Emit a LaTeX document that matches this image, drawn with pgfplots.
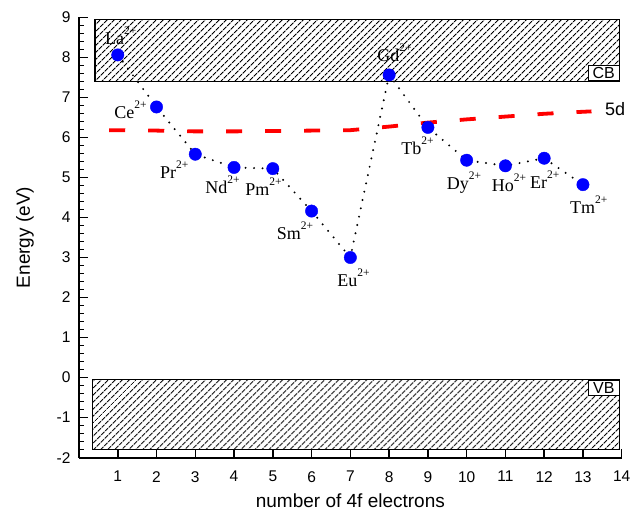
\documentclass[border=0pt]{standalone}
\usepackage{pgfplots}
\pgfplotsset{compat=1.18}
\usepackage{fontspec}
\setmainfont{Liberation Sans}
\newfontfamily\timesfont{Liberation Serif}
\usetikzlibrary{patterns.meta}
\newcommand{\ion}[1]{{\timesfont\fontsize{18bp}{20bp}\selectfont #1\raisebox{10bp}{\fontsize{11.5bp}{12bp}\selectfont 2+}}}
\begin{document}
\begin{tikzpicture}
\useasboundingbox (-79bp,-58.3bp) rectangle (553bp,457.7bp);
\begin{axis}[
 at={(0,0)}, anchor=south west,
 scale only axis, width=542.7bp, height=440.4bp,
 xmin=0, xmax=14, ymin=-2, ymax=9,
 axis x line*=bottom, axis y line*=left,
 axis line style={line width=1.8bp},
 xtick={1,...,14}, ytick={-2,...,9},
 minor y tick num=4,
 tick align=inside,
 major tick length=8.5bp, minor tick length=5bp,
 every tick/.style={line width=1.5bp, black},
 ticklabel style={font=\fontsize{15.5bp}{17bp}\selectfont},
 /pgf/number format/assume math mode=true,
 xticklabel style={yshift=-10bp},
 yticklabel style={xshift=-5bp},
 xlabel={number of 4f electrons},
 ylabel={Energy (eV)},
 label style={font=\fontsize{19bp}{21bp}\selectfont},
 xlabel style={at={(axis description cs:0.5,-0.0977)}, anchor=center},
 ylabel style={at={(axis description cs:-0.0995,0.5)}, anchor=center},
 clip=false,
]
\draw[line width=1.3bp, pattern={Lines[angle=45,distance=5.2bp,line width=1.1bp]}] (axis cs:0.41,7.4) rectangle (axis cs:13.95,8.95);
\draw[line width=1.3bp, pattern={Lines[angle=45,distance=5.2bp,line width=1.1bp]}] (axis cs:0.35,-1.8) rectangle (axis cs:13.95,-0.05);
\node[draw, fill=white, line width=1bp, inner sep=0pt, minimum width=31bp, minimum height=15.5bp, anchor=south east, font=\fontsize{16bp}{17bp}\selectfont] at (axis cs:13.95,7.4) {CB};
\node[draw, fill=white, line width=1bp, inner sep=0pt, minimum width=31bp, minimum height=15.5bp, anchor=north east, font=\fontsize{16bp}{17bp}\selectfont] at (axis cs:13.95,-0.05) {VB};

\addplot[red, line width=3.8bp, dash pattern=on 16bp off 23bp] coordinates {
(0.78,6.18)(1,6.18)(2,6.17)(3,6.15)(4,6.15)(5,6.16)(6,6.17)(7,6.18)(8,6.27)(9,6.37)(10,6.45)(11,6.52)(12,6.59)(13,6.64)(13.22,6.65)};

\addplot[black, line width=2.2bp, dash pattern=on 0bp off 8.5bp, line cap=round] coordinates {
(1,8.06)(2,6.76)(3,5.58)(4,5.25)(5,5.22)(6,4.16)(7,3.00)(8,7.56)(9,6.25)(10,5.43)(11,5.29)(12,5.48)(13,4.82)};

\addplot[only marks, mark=*, mark size=6.2bp, mark options={draw=blue, fill=blue}] coordinates {
(1,8.06)(2,6.76)(3,5.58)(4,5.25)(5,5.22)(6,4.16)(7,3.00)(8,7.56)(9,6.25)(10,5.43)(11,5.29)(12,5.48)(13,4.82)};

\node[anchor=base west, inner sep=0pt] at (axis cs:0.671,8.33) {\ion{La}};
\node[anchor=base west, inner sep=0pt] at (axis cs:0.910,6.476) {\ion{Ce}};
\node[anchor=base west, inner sep=0pt] at (axis cs:2.090,4.98) {\ion{Pr}};
\node[anchor=base west, inner sep=0pt] at (axis cs:3.255,4.59) {\ion{Nd}};
\node[anchor=base west, inner sep=0pt] at (axis cs:4.287,4.541) {\ion{Pm}};
\node[anchor=base west, inner sep=0pt] at (axis cs:5.099,3.457) {\ion{Sm}};
\node[anchor=base west, inner sep=0pt] at (axis cs:6.662,2.275) {\ion{Eu}};
\node[anchor=base west, inner sep=0pt] at (axis cs:7.694,7.898) {\ion{Gd}};
\node[anchor=base west, inner sep=0pt] at (axis cs:8.313,5.576) {\ion{Tb}};
\node[anchor=base west, inner sep=0pt] at (axis cs:9.484,4.697) {\ion{Dy}};
\node[anchor=base west, inner sep=0pt] at (axis cs:10.645,4.648) {\ion{Ho}};
\node[anchor=base west, inner sep=0pt] at (axis cs:11.633,4.715) {\ion{Er}};
\node[anchor=base west, inner sep=0pt] at (axis cs:12.664,4.094) {\ion{Tm}};
\node[anchor=base west, inner sep=0pt, font=\fontsize{18bp}{20bp}\selectfont] at (axis cs:13.567,6.558) {5d};
\end{axis}
\end{tikzpicture}
\end{document}
